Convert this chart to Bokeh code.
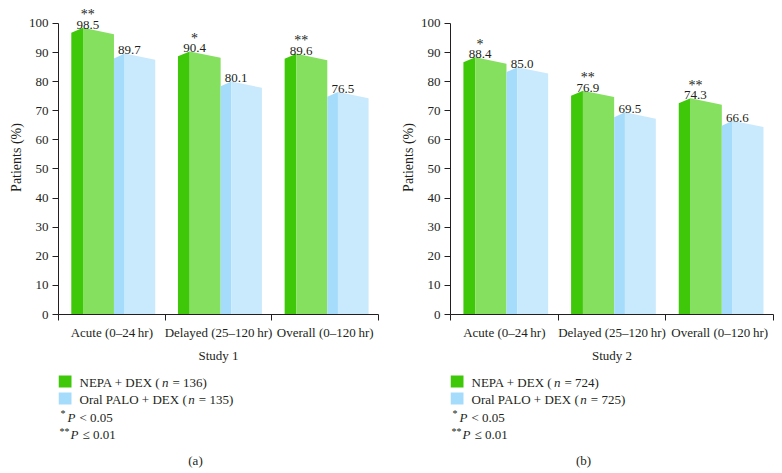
from bokeh.plotting import figure
from bokeh.layouts import row, column
from bokeh.models import Range1d, FixedTicker, ColumnDataSource
from bokeh.core.properties import value
from bokeh.embed import file_html
from bokeh.resources import INLINE

# ---------------- data ----------------
categories = ["Acute (0\u201324\u2009hr)", "Delayed (25\u2013120\u2009hr)", "Overall (0\u2013120\u2009hr)"]
study1_nepa = [98.5, 90.4, 89.6]
study1_palo = [89.7, 80.1, 76.5]
study1_sig = ["**", "*", "**"]
study2_nepa = [88.4, 76.9, 74.3]
study2_palo = [85.0, 69.5, 66.6]
study2_sig = ["*", "**", "**"]
study1_n = [136, 135]
study2_n = [724, 725]
y_ticks = [0, 10, 20, 30, 40, 50, 60, 70, 80, 90, 100]

# ---------------- style ----------------
FONT = "Liberation Serif"
INK = "#231f20"
G_DARK, G_LIGHT = "#3fc80a", "#84e05e"
B_DARK, B_LIGHT = "#a6dcfb", "#c9e9fd"
FH = 315  # frame height
CH = FH + 50
LH = 108


def chart(nepa, palo, sig, xlabel, width, left, fw):
    p = figure(width=width, height=CH, x_range=Range1d(0, 3), y_range=Range1d(0, 107.9),
               output_backend="svg", toolbar_location=None,
               min_border_left=left, min_border_right=width - left - fw,
               min_border_top=0, min_border_bottom=CH - FH)
    p.grid.visible = False
    p.outline_line_color = None
    p.background_fill_color = None
    p.border_fill_color = None

    xs, ys, cols = [], [], []
    for i, (g, b) in enumerate(zip(nepa, palo)):
        xs += [[i + 0.12, i + 0.12, i + 0.23, i + 0.23],
               [i + 0.23, i + 0.23, i + 0.52, i + 0.52],
               [i + 0.52, i + 0.52, i + 0.62, i + 0.62],
               [i + 0.62, i + 0.62, i + 0.907, i + 0.907]]
        ys += [[0, g - 1.7, g, 0], [0, g, g - 2.2, 0],
               [0, b - 1.7, b, 0], [0, b, b - 2.2, 0]]
        cols += [G_DARK, G_LIGHT, B_DARK, B_LIGHT]
    p.patches(xs="xs", ys="ys", fill_color="c", line_color=None,
              source=ColumnDataSource(dict(xs=xs, ys=ys, c=cols)))

    lx = [i + 0.275 for i in range(3)] + [i + 0.665 for i in range(3)]
    ly = list(nepa) + list(palo)
    lt = ["%.1f" % v for v in ly]
    p.text(x=lx, y=ly, text=lt, text_font=value(FONT), text_font_size="13px",
           text_color=INK, text_align="center", text_baseline="alphabetic", y_offset=-3)
    p.text(x=[i + 0.275 for i in range(3)], y=list(nepa), text=list(sig), text_font=value(FONT),
           text_font_size="14px", text_color=INK, text_align="center",
           text_baseline="alphabetic", y_offset=-13)

    yax = p.yaxis[0]
    yax.ticker = FixedTicker(ticks=y_ticks)
    yax.bounds = (0, 100)
    yax.axis_label = "Patients (%)"
    xax = p.xaxis[0]
    xax.ticker = FixedTicker(ticks=[0.5, 1.5, 2.5], minor_ticks=[0, 1, 2, 3])
    xax.major_label_overrides = {0.5: categories[0], 1.5: categories[1], 2.5: categories[2]}
    xax.major_tick_out = 0
    xax.major_tick_in = 0
    xax.minor_tick_out = 6
    xax.minor_tick_in = 0
    xax.minor_tick_line_color = INK
    xax.axis_label = xlabel
    yax.major_tick_out = 6
    yax.major_tick_in = 0
    yax.minor_tick_line_color = None
    for ax in (xax, yax):
        ax.axis_line_color = INK
        ax.major_tick_line_color = INK
        ax.major_label_text_font = FONT
        ax.major_label_text_font_size = "13px"
        ax.major_label_text_color = INK
        ax.axis_label_text_font = FONT
        ax.axis_label_text_font_size = "14px"
        ax.axis_label_text_font_style = "normal"
        ax.axis_label_text_color = INK
        ax.major_label_standoff = 4
        ax.axis_label_standoff = 5
    yax.axis_label_standoff = 2
    xax.axis_label_text_font_size = "13px"
    return p


def legend(width, left, fw, ns, caption, cap_x):
    # frame is aligned with the chart frame above; x measured from the y axis in px
    p = figure(width=width, height=LH, x_range=Range1d(0, fw), y_range=Range1d(LH, 0),
               output_backend="svg", toolbar_location=None,
               min_border_left=left, min_border_right=width - left - fw,
               min_border_top=0, min_border_bottom=0,
               x_axis_type=None, y_axis_type=None)
    p.grid.visible = False
    p.outline_line_color = None
    p.background_fill_color = None
    p.border_fill_color = None
    p.quad(left=[0, 0], right=[13, 13], top=[10, 27], bottom=[22, 39],
           fill_color=[G_DARK, B_DARK], line_color=None)

    def t(x, y, s, size="13px", style="normal", align="left", yoff=0):
        p.text(x=[x], y=[y], text=[s], text_font=value(FONT), text_font_size=size,
               text_font_style=style, text_color=INK, text_align=align,
               text_baseline="middle", y_offset=yoff)

    x0 = 21
    t(x0, 16.5, "NEPA + DEX (")
    t(x0 + 82.5, 16.5, "n", style="italic")
    t(x0 + 93, 16.5, "= %d)" % ns[0])
    t(x0, 33.5, "Oral PALO + DEX (")
    t(x0 + 108.8, 33.5, "n", style="italic")
    t(x0 + 119.3, 33.5, "= %d)" % ns[1])
    t(2, 51, "*", size="10px", yoff=-3)
    t(9, 52, "P", style="italic")
    t(21, 52, "< 0.05")
    t(1, 69, "**", size="10px", yoff=-3)
    t(12, 69, "P", style="italic")
    t(24, 69, "\u2264 0.01")
    t(cap_x, 95, caption, align="center")
    return p


WL, LL, FWL = 392, 58, 320
WR, LR, FWR = 390, 58, 323
c1 = chart(study1_nepa, study1_palo, study1_sig, "Study 1", WL, LL, FWL)
c2 = chart(study2_nepa, study2_palo, study2_sig, "Study 2", WR, LR, FWR)
l1 = legend(WL, LL, FWL, study1_n, "(a)", 137)
l2 = legend(WR, LR, FWR, study2_n, "(b)", 133)

page = row(column(c1, l1), column(c2, l2))
open("out.html", "w").write(file_html(page, INLINE))
